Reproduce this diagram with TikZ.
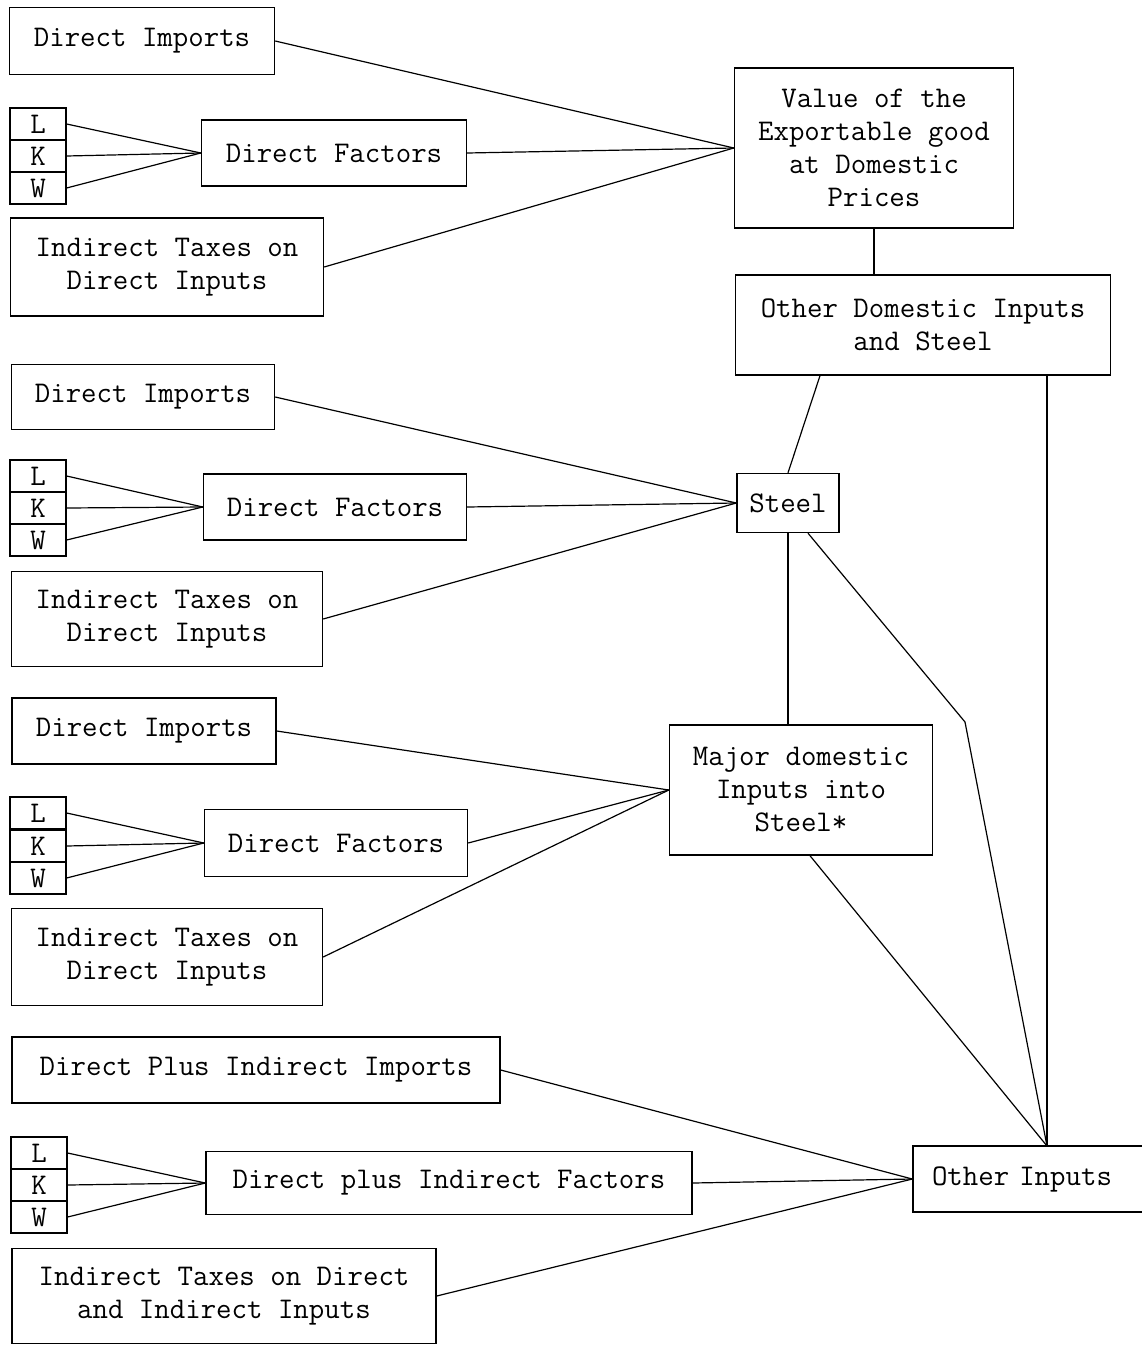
\documentclass[tikz,border=0pt]{standalone}
\usepackage{tikz}

\begin{document}
\begin{tikzpicture}[x=1pt, y=-1pt,
  box/.style={draw, line width=1.4pt, align=center, inner sep=0pt, font=\ttfamily\fontsize{30}{33}\selectfont},
  cell/.style={draw, line width=1.3pt, minimum width=56pt, minimum height=32pt, inner sep=0pt, font=\ttfamily\fontsize{30}{33}\selectfont},
  link/.style={line width=1.2pt}]

\useasboundingbox (0,0) rectangle (1142,1346);

% Exportable good
\node[box, minimum width=265pt, minimum height=67pt] (imp1) at (142,41) {Direct Imports};
\node[cell] (l1) at (38,124) {L};
\node[cell] (k1) at (38,156) {K};
\node[cell] (w1) at (38,188) {W};
\node[box, minimum width=265pt, minimum height=66pt] (fac1) at (334,153) {Direct Factors};
\node[box, minimum width=313pt, minimum height=98pt] (tax1) at (167,267) {Indirect Taxes on\\Direct Inputs};
\node[box, minimum width=279pt, minimum height=160pt] (val) at (874,148) {Value of the\\Exportable good\\at Domestic\\Prices};
\node[box, minimum width=375pt, minimum height=100pt] (odi) at (923,325) {Other Domestic Inputs\\and Steel};

% Steel
\node[box, minimum width=263pt, minimum height=65pt] (imp2) at (143,397) {Direct Imports};
\node[cell] (l2) at (38,476) {L};
\node[cell] (k2) at (38,508) {K};
\node[cell] (w2) at (38,540) {W};
\node[box, minimum width=263pt, minimum height=66pt] (fac2) at (335,507) {Direct Factors};
\node[box, minimum width=311pt, minimum height=95pt] (tax2) at (167,619) {Indirect Taxes on\\Direct Inputs};
\node[box, minimum width=102pt, minimum height=59pt] (steel) at (788,503) {Steel};

% Major domestic inputs
\node[box, minimum width=264pt, minimum height=66pt] (imp3) at (144,731) {Direct Imports};
\node[cell] (l3) at (38,813) {L};
\node[cell] (k3) at (38,846) {K};
\node[cell] (w3) at (38,878) {W};
\node[box, minimum width=263pt, minimum height=67pt] (fac3) at (336,843) {Direct Factors};
\node[box, minimum width=311pt, minimum height=97pt] (tax3) at (167,957) {Indirect Taxes on\\Direct Inputs};
\node[box, minimum width=263pt, minimum height=130pt] (maj) at (801,790) {Major domestic\\Inputs into\\Steel*};

% Other inputs
\node[box, minimum width=488pt, minimum height=66pt] (imp4) at (256,1070) {Direct Plus Indirect Imports};
\node[cell] (l4) at (39,1153) {L};
\node[cell] (k4) at (39,1185) {K};
\node[cell] (w4) at (39,1217) {W};
\node[box, minimum width=486pt, minimum height=63pt] (fac4) at (449,1183) {Direct plus Indirect Factors};
\node[box, minimum width=424pt, minimum height=95pt] (tax4) at (224,1296) {Indirect Taxes on Direct\\and Indirect Inputs};
\node[box, minimum width=274pt, minimum height=66pt, text width=236pt, align=left] (oth) at (1050,1179) {Other Inputs};

\coordinate (hub) at (1047,1146);
\coordinate (bend) at (965,722);

% Connectors
\draw[link] (l1.east) -- (fac1.west);
\draw[link] (k1.east) -- (fac1.west);
\draw[link] (w1.east) -- (fac1.west);
\draw[link] (imp1.east) -- (val.west);
\draw[link] (fac1.east) -- (val.west);
\draw[link] (tax1.east) -- (val.west);
\draw[link] (val.south) -- (val.south |- odi.north);

\draw[link] (l2.east) -- (fac2.west);
\draw[link] (k2.east) -- (fac2.west);
\draw[link] (w2.east) -- (fac2.west);
\draw[link] (imp2.east) -- (steel.west);
\draw[link] (fac2.east) -- (steel.west);
\draw[link] (tax2.east) -- (steel.west);
\draw[link] ([xshift=-103pt]odi.south) -- (steel.north);

\draw[link] (l3.east) -- (fac3.west);
\draw[link] (k3.east) -- (fac3.west);
\draw[link] (w3.east) -- (fac3.west);
\draw[link] (imp3.east) -- (maj.west);
\draw[link] (fac3.east) -- (maj.west);
\draw[link] (tax3.east) -- (maj.west);
\draw[link] (steel.south) -- (steel.south |- maj.north);

\draw[link] (l4.east) -- (fac4.west);
\draw[link] (k4.east) -- (fac4.west);
\draw[link] (w4.east) -- (fac4.west);
\draw[link] (imp4.east) -- (oth.west);
\draw[link] (fac4.east) -- (oth.west);
\draw[link] (tax4.east) -- (oth.west);

\draw[link] (hub |- odi.south) -- (hub);
\draw[link] ([xshift=20pt]steel.south) -- (bend) -- (hub);
\draw[link] ([xshift=9pt]maj.south) -- (hub);

\end{tikzpicture}
\end{document}
